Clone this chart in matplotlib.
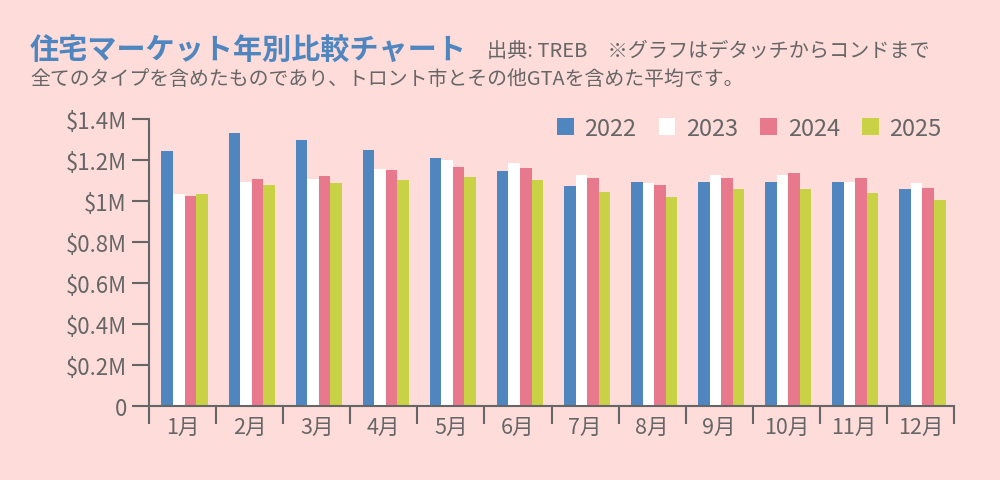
import numpy as np
import matplotlib
matplotlib.use("Agg")
import matplotlib.pyplot as plt
from matplotlib.patches import Patch

plt.rcParams['font.family'] = ['Noto Sans CJK JP', 'DejaVu Sans']

# ---- datos (millones de CAD) ----
meses = ["1月", "2月", "3月", "4月", "5月", "6月",
         "7月", "8月", "9月", "10月", "11月", "12月"]
anios = ["2022", "2023", "2024", "2025"]
v2022 = [1.244, 1.332, 1.298, 1.249, 1.211, 1.145, 1.073, 1.093, 1.093, 1.091, 1.093, 1.057]
v2023 = [1.034, 1.094, 1.107, 1.156, 1.200, 1.184, 1.125, 1.088, 1.127, 1.127, 1.093, 1.088]
v2024 = [1.023, 1.107, 1.122, 1.151, 1.166, 1.161, 1.112, 1.078, 1.112, 1.137, 1.112, 1.062]
v2025 = [1.036, 1.080, 1.089, 1.104, 1.119, 1.102, 1.045, 1.021, 1.060, 1.057, 1.040, 1.006]
yticks = [0, 0.2, 0.4, 0.6, 0.8, 1.0, 1.2, 1.4]
ylabels = ["0", "$0.2M", "$0.4M", "$0.6M", "$0.8M", "$1M", "$1.2M", "$1.4M"]

FONDO = "#fddcda"
GRIS = "#666666"
colores = ["#4f86bf", "#ffffff", "#e8798c", "#c9d145"]

fig = plt.figure(figsize=(10, 4.81), dpi=100, facecolor=FONDO)
ax = fig.add_axes([0.149, 0.1538, 0.805, 0.5967], facecolor=FONDO)

x = np.arange(len(meses))
ancho = 0.172
series = [v2022, v2023, v2024, v2025]
for i, (vals, col) in enumerate(zip(series, colores)):
    ax.bar(x + (i - 1.5) * ancho + 0.03, vals, width=ancho, color=col, linewidth=0)

ax.set_xlim(-0.5, len(meses) - 0.5)
ax.set_ylim(0, 1.4)

# eje Y
ax.set_yticks(yticks)
ax.set_yticklabels(ylabels, fontsize=16, color=GRIS)
ax.tick_params(axis='y', length=12, width=1.5, color=GRIS, pad=4)

# eje X: etiquetas en el centro, marcas en los límites
ax.set_xticks(x)
ax.set_xticklabels(meses, fontsize=15.5, color=GRIS)
ax.set_xticks(np.arange(len(meses) + 1) - 0.5, minor=True)
ax.tick_params(axis='x', which='major', length=0, pad=7)
ax.tick_params(axis='x', which='minor', length=13, width=1.5, color=GRIS, direction='out')

for lado in ['top', 'right']:
    ax.spines[lado].set_visible(False)
for lado in ['left', 'bottom']:
    ax.spines[lado].set_color(GRIS)
    ax.spines[lado].set_linewidth(1.5)

# leyenda
handles = [Patch(facecolor=c, edgecolor='none') for c in colores]
fig.legend(handles, anios, loc='upper right', bbox_to_anchor=(0.951, 0.775),
           ncol=4, frameon=False, fontsize=17, labelcolor=GRIS,
           handlelength=0.7, handleheight=0.75, handletextpad=0.45,
           columnspacing=0.95, borderaxespad=0)

# títulos
fig.text(0.030, 0.896, "住宅マーケット年別比較チャート", fontsize=21, fontweight='bold',
         color="#4f86bf", va='center', ha='left')
fig.text(0.487, 0.893, "出典: TREB　※グラフはデタッチからコンドまで", fontsize=14.5,
         color=GRIS, va='center', ha='left')
fig.text(0.030, 0.834, "全てのタイプを含めたものであり、トロント市とその他GTAを含めた平均です。",
         fontsize=14.3, color=GRIS, va='center', ha='left')

fig.savefig("out.png", dpi=100, facecolor=FONDO)
